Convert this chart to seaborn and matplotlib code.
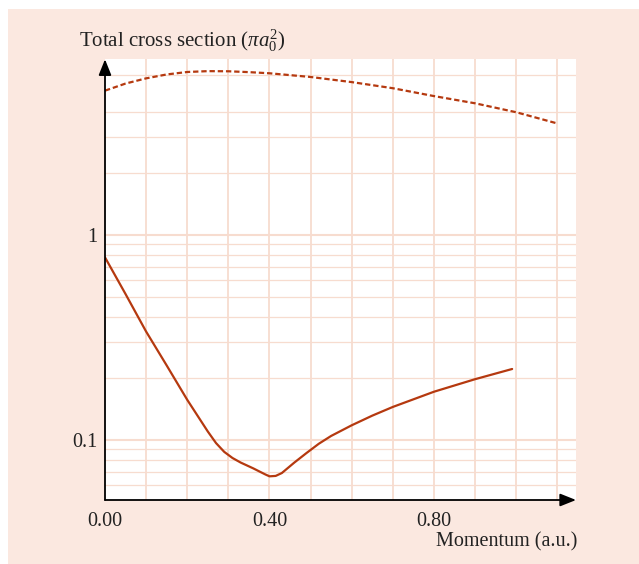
import matplotlib
matplotlib.use("Agg")
import matplotlib.pyplot as plt
import seaborn as sns
import pandas as pd
from matplotlib.patches import Rectangle

# ---- data ----
momentum_solid = [0.00, 0.05, 0.10, 0.15, 0.20, 0.25, 0.27, 0.29, 0.31, 0.33,
                  0.36, 0.39, 0.40, 0.415, 0.43, 0.46, 0.49, 0.52, 0.55, 0.60,
                  0.65, 0.70, 0.80, 0.90, 0.99]
cross_solid = [0.778, 0.515, 0.338, 0.231, 0.157, 0.110, 0.0966, 0.0875, 0.0817, 0.0776,
               0.0728, 0.0679, 0.0665, 0.0668, 0.0690, 0.0775, 0.0864, 0.0959, 0.1047, 0.118,
               0.1315, 0.145, 0.172, 0.198, 0.222]

momentum_dashed = [0.00, 0.05, 0.10, 0.15, 0.20, 0.25, 0.30, 0.35, 0.40, 0.50,
                   0.60, 0.70, 0.80, 0.90, 1.00, 1.10]
cross_dashed = [5.06, 5.48, 5.81, 6.07, 6.24, 6.30, 6.29, 6.23, 6.15, 5.90,
                5.57, 5.20, 4.76, 4.39, 3.97, 3.50]

x_ticks = [0.0, 0.4, 0.8]
x_tick_labels = ["0.00", "0.40", "0.80"]
y_ticks = [0.1, 1]
y_tick_labels = ["0.1", "1"]

title_text = r"Total cross section ($\pi a_0^2$)"
xlabel_text = "Momentum (a.u.)"

# ---- style ----
sns.set_theme(style="white")
plt.rcParams["font.family"] = ["Liberation Serif", "DejaVu Serif"]
plt.rcParams["mathtext.fontset"] = "custom"
plt.rcParams["mathtext.rm"] = "Liberation Serif"
plt.rcParams["mathtext.it"] = "Liberation Serif:italic"

line_color = "#b5390f"
grid_color = "#f7dccf"
bg_color = "#fbe8e0"
text_color = "#222222"

W, H = 639, 564
fig = plt.figure(figsize=(W / 100, H / 100), dpi=100)
fig.patch.set_facecolor("white")
fig.add_artist(Rectangle((8 / W, 0), 1, (H - 9) / H, transform=fig.transFigure,
                         facecolor=bg_color, edgecolor="none", zorder=-10))

ax = fig.add_axes([105 / W, (H - 500) / H, 471 / W, (500 - 59.3) / H])
ax.set_facecolor("white")
ax.set_yscale("log")
ax.set_xlim(0, 1.1453)
ax.set_ylim(0.05097, 7.196)

# grid
for v in [0.1, 0.2, 0.3, 0.4, 0.5, 0.6, 0.7, 0.8, 0.9, 1.0, 1.1]:
    ax.axvline(v, color=grid_color, lw=1.3, zorder=0.5)
for v in [0.06, 0.07, 0.08, 0.09, 0.2, 0.3, 0.4, 0.5, 0.6, 0.7, 0.8, 0.9, 2, 3, 4, 6]:
    ax.axhline(v, color=grid_color, lw=0.9, zorder=0.5)
for v in [0.1, 1]:
    ax.axhline(v, color=grid_color, lw=1.5, zorder=0.5)

df_solid = pd.DataFrame({"q": momentum_solid, "sigma": cross_solid})
df_dashed = pd.DataFrame({"q": momentum_dashed, "sigma": cross_dashed})

sns.lineplot(data=df_solid, x="q", y="sigma", ax=ax, color=line_color, lw=1.6,
             estimator=None, sort=False, zorder=3)
sns.lineplot(data=df_dashed, x="q", y="sigma", ax=ax, color=line_color, lw=1.6,
             estimator=None, sort=False, zorder=3)
ax.lines[-1].set_linestyle((0, (2.4, 1.3)))
for ln in ax.lines[-2:]:
    ln.set_solid_joinstyle("round")
    ln.set_dash_joinstyle("round")

for s in ["top", "right", "left", "bottom"]:
    ax.spines[s].set_visible(False)

arrow_kw = dict(arrowstyle="-|>,head_length=0.8,head_width=0.32", color="black",
                lw=1.3, shrinkA=0, shrinkB=0, mutation_scale=12)
ax.annotate("", xy=(0, 1), xytext=(0, 0), xycoords="axes fraction",
            arrowprops=arrow_kw, annotation_clip=False, zorder=5)
ax.annotate("", xy=(1, 0), xytext=(0, 0), xycoords="axes fraction",
            arrowprops=arrow_kw, annotation_clip=False, zorder=5)

ax.set_xticks(x_ticks)
ax.set_xticklabels(x_tick_labels)
ax.set_yticks(y_ticks)
ax.set_yticklabels(y_tick_labels)
ax.yaxis.set_minor_locator(matplotlib.ticker.NullLocator())
ax.tick_params(axis="both", length=0, labelsize=14.5, labelcolor=text_color)
ax.tick_params(axis="x", pad=9)
ax.tick_params(axis="y", pad=5.5)
ax.set_xlabel("")
ax.set_ylabel("")

fig.text(79 / W, 1 - 46.7 / H, title_text, fontsize=15, ha="left", va="baseline",
         color=text_color)
fig.text(436 / W, 1 - 546.5 / H, xlabel_text, fontsize=14.5, ha="left", va="baseline",
         color=text_color)

fig.savefig("out.png", dpi=100, facecolor="white")
